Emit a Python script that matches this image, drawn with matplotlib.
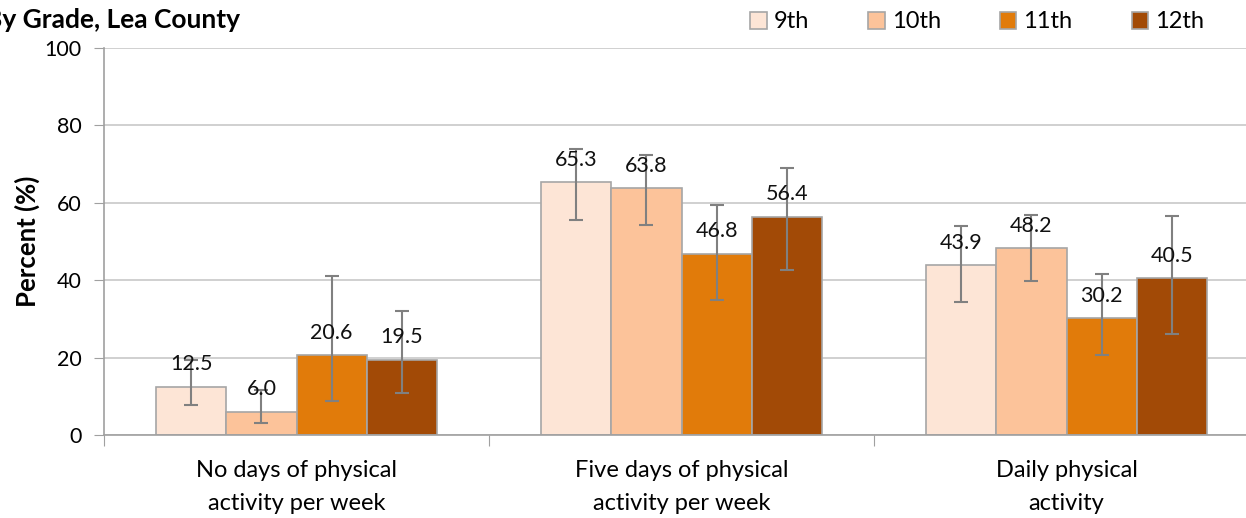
import numpy as np
import matplotlib
matplotlib.use("Agg")
import matplotlib.pyplot as plt
from matplotlib.patches import Patch

plt.rcParams['font.family'] = ['Lato', 'DejaVu Sans']

categories = ["No days of physical\nactivity per week",
              "Five days of physical\nactivity per week",
              "Daily physical\nactivity"]
grades = ["9th", "10th", "11th", "12th"]
values = {
    "9th": [12.5, 65.3, 43.9],
    "10th": [6.0, 63.8, 48.2],
    "11th": [20.6, 46.8, 30.2],
    "12th": [19.5, 56.4, 40.5],
}
lower = {
    "9th": [7.8, 55.6, 34.4],
    "10th": [3.1, 54.3, 39.8],
    "11th": [8.8, 34.9, 20.7],
    "12th": [10.9, 42.6, 26.1],
}
upper = {
    "9th": [19.4, 73.9, 54.0],
    "10th": [11.6, 72.4, 56.8],
    "11th": [41.1, 59.4, 41.6],
    "12th": [32.0, 69.0, 56.6],
}
colors = ["#FDE5D6", "#FCC39A", "#E17B0A", "#A24A06"]

fig = plt.figure(figsize=(12.46, 5.18), dpi=100)
ax = fig.add_axes([104 / 1246, 83 / 518, 1155 / 1246, 387 / 518])

x = np.arange(len(categories))
width = 0.182
for i, g in enumerate(grades):
    pos = x + (i - 1.5) * width
    vals = np.array(values[g])
    err = [vals - np.array(lower[g]), np.array(upper[g]) - vals]
    ax.bar(pos, vals, width, color=colors[i], edgecolor="#A6A6A6", linewidth=1.2, zorder=2)
    ax.errorbar(pos, vals, yerr=err, fmt="none", ecolor="#808080", elinewidth=1.5,
                capsize=5, capthick=1.5, zorder=3)
    for p, v in zip(pos, vals):
        ax.annotate(f"{v:.1f}", (p, v), xytext=(0, 9), textcoords="offset points",
                    ha="center", va="bottom", fontsize=15.5, color="#111111", zorder=4)

ax.set_xlim(-0.5, 2.5)
ax.set_ylim(0, 100)
ax.set_yticks(range(0, 101, 20))
ax.yaxis.grid(True, color="#C8C8C8", linewidth=1.2, zorder=0)
ax.set_axisbelow(True)

ax.set_xticks([-0.5, 0.5, 1.5, 2.5])
ax.set_xticklabels([])
ax.set_xticks(x, minor=True)
ax.set_xticklabels(categories, minor=True, fontsize=17, linespacing=1.7)
ax.tick_params(axis="x", which="minor", length=0, pad=18)
ax.tick_params(axis="x", which="major", length=8, color="#A0A0A0", direction="out")
ax.tick_params(axis="y", length=7, color="#A0A0A0", labelsize=15.5, pad=9)

for s in ["top", "right"]:
    ax.spines[s].set_visible(False)
for s in ["left", "bottom"]:
    ax.spines[s].set_color("#A0A0A0")
    ax.spines[s].set_linewidth(1.2)

ax.set_ylabel("Percent (%)", fontsize=18.5, fontweight="bold", labelpad=3)

fig.text(240 / 1246, 1 - 20 / 518, "By Grade, Lea County", fontsize=19,
         fontweight="bold", ha="right", va="center")

handles = [Patch(facecolor=c, edgecolor="#A6A6A6", linewidth=1.2) for c in colors]
fig.legend(handles, grades, loc="center left", bbox_to_anchor=(750 / 1246, 1 - 22 / 518),
           ncol=4, frameon=False, fontsize=17, handlelength=0.7, handleheight=0.7,
           handletextpad=0.3, columnspacing=2.5, borderaxespad=0, borderpad=0)

fig.savefig("out.png", dpi=100)
